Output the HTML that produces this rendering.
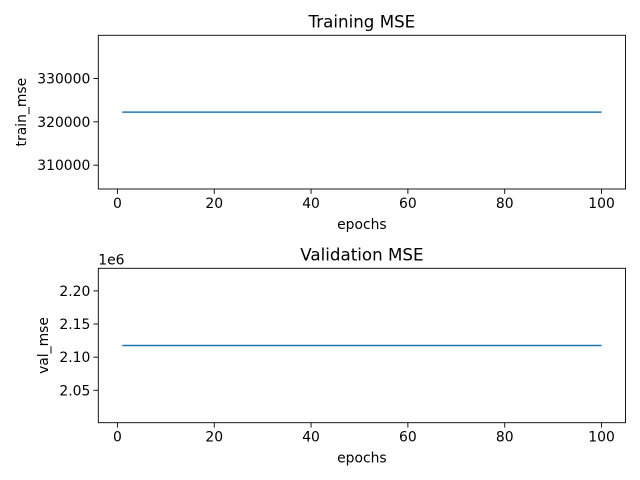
<!DOCTYPE html>
<html><head><meta charset="utf-8"><style>
html,body{margin:0;padding:0;background:#fff;}
svg{display:block;font-family:"DejaVu Sans","Liberation Sans",sans-serif;}
</style></head><body>
<svg id="chart" width="640" height="480" viewBox="0 0 640 480" xmlns="http://www.w3.org/2000/svg"></svg>
<script>
const epochs = [1,2,3,4,5,6,7,8,9,10,11,12,13,14,15,16,17,18,19,20,21,22,23,24,25,26,27,28,29,30,31,32,33,34,35,36,37,38,39,40,41,42,43,44,45,46,47,48,49,50,51,52,53,54,55,56,57,58,59,60,61,62,63,64,65,66,67,68,69,70,71,72,73,74,75,76,77,78,79,80,81,82,83,84,85,86,87,88,89,90,91,92,93,94,95,96,97,98,99,100];
const trainMse = [322230,322230,322230,322230,322230,322230,322230,322230,322230,322230,322230,322230,322230,322230,322230,322230,322230,322230,322230,322230,322230,322230,322230,322230,322230,322230,322230,322230,322230,322230,322230,322230,322230,322230,322230,322230,322230,322230,322230,322230,322230,322230,322230,322230,322230,322230,322230,322230,322230,322230,322230,322230,322230,322230,322230,322230,322230,322230,322230,322230,322230,322230,322230,322230,322230,322230,322230,322230,322230,322230,322230,322230,322230,322230,322230,322230,322230,322230,322230,322230,322230,322230,322230,322230,322230,322230,322230,322230,322230,322230,322230,322230,322230,322230,322230,322230,322230,322230,322230,322230];
const valMse = [2117600,2117600,2117600,2117600,2117600,2117600,2117600,2117600,2117600,2117600,2117600,2117600,2117600,2117600,2117600,2117600,2117600,2117600,2117600,2117600,2117600,2117600,2117600,2117600,2117600,2117600,2117600,2117600,2117600,2117600,2117600,2117600,2117600,2117600,2117600,2117600,2117600,2117600,2117600,2117600,2117600,2117600,2117600,2117600,2117600,2117600,2117600,2117600,2117600,2117600,2117600,2117600,2117600,2117600,2117600,2117600,2117600,2117600,2117600,2117600,2117600,2117600,2117600,2117600,2117600,2117600,2117600,2117600,2117600,2117600,2117600,2117600,2117600,2117600,2117600,2117600,2117600,2117600,2117600,2117600,2117600,2117600,2117600,2117600,2117600,2117600,2117600,2117600,2117600,2117600,2117600,2117600,2117600,2117600,2117600,2117600,2117600,2117600,2117600,2117600];
const xTicks = [0,20,40,60,80,100];
const trainYTicks = [310000,320000,330000];
const trainYLabels = ["310000","320000","330000"];
const valYTicks = [2050000,2100000,2150000,2200000];
const valYLabels = ["2.05","2.10","2.15","2.20"];

const NS="http://www.w3.org/2000/svg";
const svg=document.getElementById('chart');
function mk(tag,attrs,parent){const e=document.createElementNS(NS,tag);for(const k in attrs)e.setAttribute(k,attrs[k]);(parent||svg).appendChild(e);return e;}
function txt(s,attrs,parent){const e=mk('text',attrs,parent);e.textContent=s;return e;}

function panel(cfg){
  const L=98.3,R=625.5,T=cfg.top,B=cfg.bottom;
  const g=mk('g',{});
  
  
  const xmin=-3.95,xmax=104.95;
  const xs=v=>L+(v-xmin)/(xmax-xmin)*(R-L);
  const vals=cfg.values;
  const lo=Math.min(...vals),hi=Math.max(...vals);
  let ymin,ymax;
  if(hi===lo){const d=Math.abs(lo)*0.05;ymin=lo-d;ymax=hi+d;}else{ymin=lo;ymax=hi;}
  const pad=(ymax-ymin)*0.05;ymin-=pad;ymax+=pad;
  const ys=v=>B-(v-ymin)/(ymax-ymin)*(B-T);
  // line
  const pts=epochs.map((e,i)=>xs(e).toFixed(2)+','+ys(vals[i]).toFixed(2)).join(' ');
  const pl=mk('polyline',{points:pts,fill:'none',stroke:'#1f77b4','stroke-width':1.5},g);
  
  
  // frame
  const fr=mk('rect',{x:L,y:T,width:R-L,height:B-T,fill:'none',stroke:'#000','stroke-width':0.9},g);
  
  
  // x ticks
  xTicks.forEach(t=>{
    const x=xs(t);
    mk('line',{x1:x,x2:x,y1:B,y2:B+4.9,stroke:'#000','stroke-width':0.9},g);
    const tl=txt(String(t),{x:x,y:B+19,'font-size':13.9,'text-anchor':'middle',fill:'#000'},g);
    
    
  });
  cfg.yTicks.forEach((t,i)=>{
    const y=ys(t);
    mk('line',{x1:L,x2:L-4.9,y1:y,y2:y,stroke:'#000','stroke-width':0.9},g);
    const tl=txt(cfg.yLabels[i],{x:L-8,y:y+5,'font-size':13.9,'text-anchor':'end',fill:'#000'},g);
    
    
  });
  const ti=txt(cfg.title,{x:(L+R)/2,y:T-8,'font-size':16.7,'text-anchor':'middle',fill:'#000'},g);
  
  
  const xl=txt('epochs',{x:(L+R)/2,y:B+40,'font-size':13.9,'text-anchor':'middle',fill:'#000'},g);
  
  
  const yl=txt(cfg.ylabel,{x:0,y:0,'font-size':13.9,'text-anchor':'middle',fill:'#000',transform:'translate('+cfg.ylabelX+','+((T+B)/2)+') rotate(-90)'},g);
  
  
  if(cfg.offset){
    const o=txt(cfg.offset,{x:L,y:T-4,'font-size':13.9,'text-anchor':'start',fill:'#000'},g);
    
    
  }
}
panel({name:'training-mse-panel',top:35.3,bottom:189,values:trainMse,yTicks:trainYTicks,yLabels:trainYLabels,title:'Training MSE',ylabel:'train_mse',ylabelX:26});
panel({name:'validation-mse-panel',top:268.3,bottom:422.7,values:valMse,yTicks:valYTicks,yLabels:valYLabels,title:'Validation MSE',ylabel:'val_mse',ylabelX:48,offset:'1e6'});
</script>
</body></html>
